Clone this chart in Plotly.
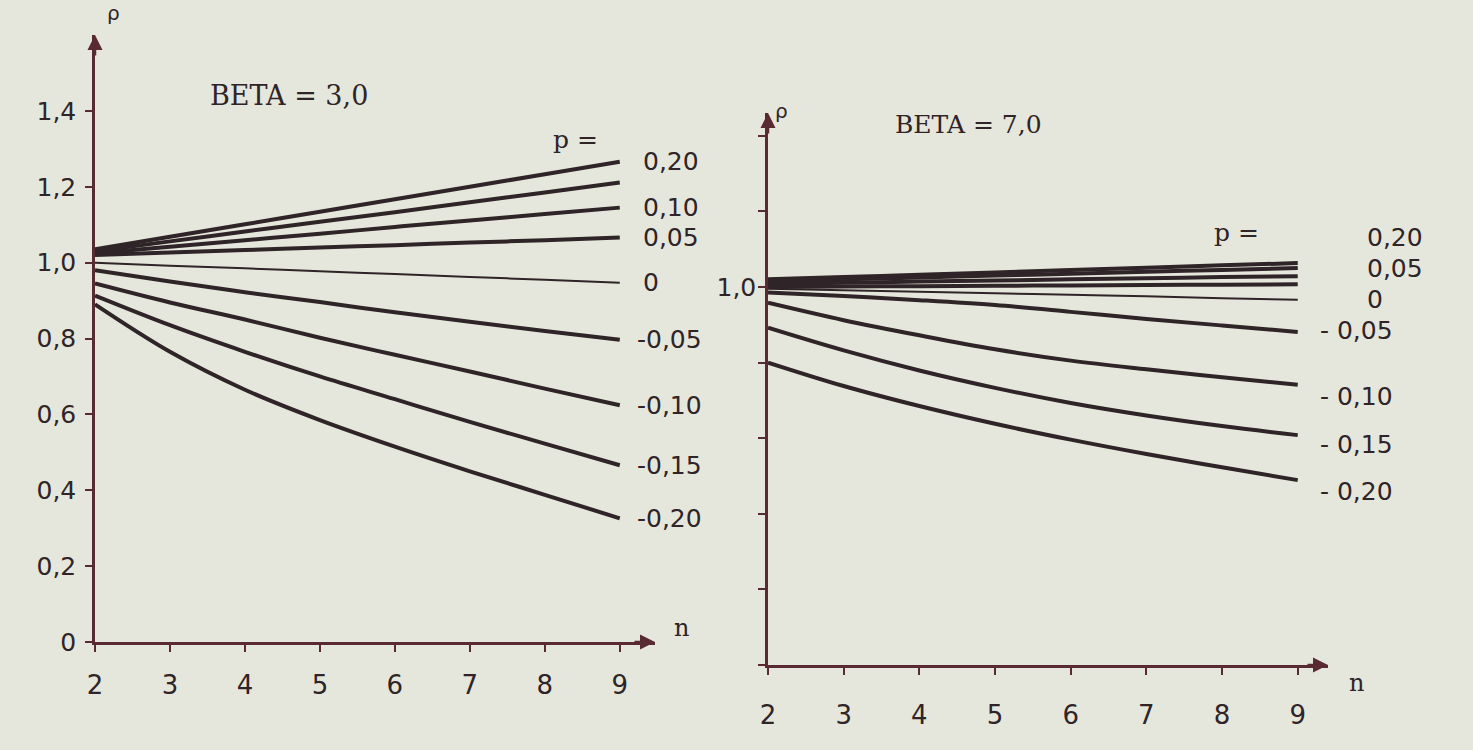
import plotly.graph_objects as go

# ---------------- data ----------------
n_vals = [2, 3, 4, 5, 6, 7, 8, 9]

p_labels = ["0,20", "0,15", "0,10", "0,05", "0", "-0,05", "-0,10", "-0,15", "-0,20"]

# BETA = 3,0  (left panel)
beta3_p020 = [1.035, 1.068, 1.101, 1.134, 1.167, 1.200, 1.233, 1.266]
beta3_p015 = [1.030, 1.056, 1.082, 1.108, 1.133, 1.159, 1.185, 1.211]
beta3_p010 = [1.025, 1.042, 1.059, 1.076, 1.094, 1.111, 1.128, 1.145]
beta3_p005 = [1.020, 1.027, 1.033, 1.040, 1.046, 1.053, 1.059, 1.066]
beta3_p000 = [1.000, 0.992, 0.985, 0.977, 0.970, 0.962, 0.955, 0.947]
beta3_m005 = [0.980, 0.950, 0.922, 0.896, 0.869, 0.844, 0.820, 0.797]
beta3_m010 = [0.945, 0.895, 0.850, 0.802, 0.757, 0.713, 0.668, 0.624]
beta3_m015 = [0.913, 0.835, 0.765, 0.700, 0.640, 0.580, 0.523, 0.466]
beta3_m020 = [0.890, 0.765, 0.665, 0.585, 0.515, 0.450, 0.388, 0.326]

# BETA = 7,0  (right panel)
beta7_p020 = [1.020, 1.026, 1.032, 1.038, 1.045, 1.051, 1.057, 1.063]
beta7_p015 = [1.015, 1.020, 1.025, 1.030, 1.035, 1.040, 1.045, 1.050]
beta7_p010 = [1.008, 1.011, 1.014, 1.017, 1.020, 1.023, 1.026, 1.028]
beta7_p005 = [1.000, 1.001, 1.002, 1.003, 1.004, 1.005, 1.006, 1.007]
beta7_p000 = [0.995, 0.991, 0.987, 0.983, 0.979, 0.975, 0.970, 0.966]
beta7_m005 = [0.985, 0.976, 0.965, 0.952, 0.934, 0.915, 0.898, 0.881]
beta7_m010 = [0.958, 0.912, 0.872, 0.835, 0.805, 0.782, 0.761, 0.741]
beta7_m015 = [0.892, 0.832, 0.779, 0.733, 0.693, 0.660, 0.632, 0.608]
beta7_m020 = [0.800, 0.738, 0.685, 0.638, 0.596, 0.558, 0.523, 0.489]

y_tick_vals = [0, 0.2, 0.4, 0.6, 0.8, 1.0, 1.2, 1.4]
y_tick_text = ["0", "0,2", "0,4", "0,6", "0,8", "1,0", "1,2", "1,4"]
y_tick_text_right = ["", "", "", "", "", "1,0", "", ""]
x_tick_vals = n_vals
x_tick_text = [str(v) for v in n_vals]

left_series = [beta3_p020, beta3_p015, beta3_p010, beta3_p005, beta3_p000,
               beta3_m005, beta3_m010, beta3_m015, beta3_m020]
right_series = [beta7_p020, beta7_p015, beta7_p010, beta7_p005, beta7_p000,
                beta7_m005, beta7_m010, beta7_m015, beta7_m020]

# labels shown at the line ends (left panel skips 0,15)
left_end_labels = ["0,20", "", "0,10", "0,05", "0", "-0,05", "-0,10", "-0,15", "-0,20"]
right_end_labels = ["0,20", "0,05", "0", "- 0,05", "- 0,10", "- 0,15", "- 0,20"]

# ---------------- styling / layout ----------------
BG = "#e6e7dc"
INK = "#2f2427"
AXIS = "#5a2a33"
LABEL_FONT = "DejaVu Sans"
SERIF = "DejaVu Serif"

# right label positions (paper x, data y) -- layout only
right_label_x = [0.9267, 0.9267, 0.9267, 0.8948, 0.8948, 0.8948, 0.8948]
right_label_y = [1.132, 1.050, 0.966, 0.884, 0.709, 0.582, 0.458]

fig = go.Figure()

for i, ys in enumerate(left_series):
    w = 2 if p_labels[i] == "0" else 4
    fig.add_trace(go.Scatter(x=n_vals, y=ys, mode="lines", xaxis="x", yaxis="y",
                             line=dict(color=INK, width=w, shape="spline"),
                             name="p = " + p_labels[i], showlegend=False))

for i, ys in enumerate(right_series):
    w = 2 if p_labels[i] == "0" else 4
    fig.add_trace(go.Scatter(x=n_vals, y=ys, mode="lines", xaxis="x2", yaxis="y2",
                             line=dict(color=INK, width=w, shape="spline"),
                             name="p = " + p_labels[i], showlegend=False))

axis_common = dict(showline=True, linecolor=AXIS, linewidth=2.5, ticks="outside",
                   ticklen=7, tickwidth=2, tickcolor=AXIS, showgrid=False,
                   zeroline=False, fixedrange=True, automargin=False)

W, H = 1473, 750
fig.update_layout(
    template="none",
    width=W, height=H,
    margin=dict(l=0, r=0, t=0, b=0, pad=0),
    paper_bgcolor=BG, plot_bgcolor=BG,
    showlegend=False,
    xaxis=dict(domain=[95 / W, 655 / W], range=[2, 9.47], anchor="y",
               tickvals=x_tick_vals, ticktext=x_tick_text, ticklabelstandoff=11,
               tickfont=dict(family=LABEL_FONT, size=26, color=INK), **axis_common),
    yaxis=dict(domain=[(H - 642) / H, (H - 35) / H], range=[0, 1.6], anchor="x",
               tickvals=y_tick_vals, ticktext=y_tick_text, ticklabelstandoff=4,
               tickfont=dict(family=LABEL_FONT, size=25, color=INK), **axis_common),
    xaxis2=dict(domain=[768 / W, 1328 / W], range=[2, 9.4], anchor="y2",
                tickvals=x_tick_vals, ticktext=x_tick_text, ticklabelstandoff=18,
                tickfont=dict(family=LABEL_FONT, size=26, color=INK), **axis_common),
    yaxis2=dict(domain=[(H - 665) / H, (H - 113) / H], range=[0, 1.46], anchor="x2",
                tickvals=y_tick_vals, ticktext=y_tick_text_right, ticklabelstandoff=-3,
                tickfont=dict(family=LABEL_FONT, size=25, color=INK), **axis_common),
)

ann = []
# axis arrows
for xr, yr, xt, yt, axp, ayp in [("x", "y", 2, 1.6, 0, 22), ("x", "y", 9.47, 0, -22, 0),
                                  ("x2", "y2", 2, 1.46, 0, 22), ("x2", "y2", 9.4, 0, -22, 0)]:
    ann.append(dict(x=xt, y=yt, xref=xr, yref=yr, ax=axp, ay=ayp, text="",
                    showarrow=True, arrowhead=2, arrowsize=1.2, arrowwidth=2.5,
                    arrowcolor=AXIS))

# axis titles
ann.append(dict(x=2, y=1.6, xref="x", yref="y", text="ρ", showarrow=False,
                xshift=18, yshift=22, yanchor="middle",
                font=dict(family=LABEL_FONT, size=20, color=INK)))
ann.append(dict(x=9.47, y=0, xref="x", yref="y", text="n", showarrow=False,
                xshift=26, yshift=14, yanchor="middle",
                font=dict(family=SERIF, size=24, color=INK)))
ann.append(dict(x=2, y=1.46, xref="x2", yref="y2", text="ρ", showarrow=False,
                xshift=14, yshift=2, yanchor="middle",
                font=dict(family=LABEL_FONT, size=20, color=INK)))
ann.append(dict(x=9.4, y=0, xref="x2", yref="y2", text="n", showarrow=False,
                xshift=28, yshift=-18, yanchor="middle",
                font=dict(family=SERIF, size=24, color=INK)))

# panel titles and "p =" headers
for txt, px, py, fs in [("BETA = 3,0", 208, 95, 27), ("BETA = 7,0", 893, 125, 25),
                        ("p =", 551, 140, 25), ("p =", 1212, 233, 25)]:
    ann.append(dict(x=px / W, y=(H - py) / H, xref="paper", yref="paper", text=txt,
                    xanchor="left", yanchor="middle", showarrow=False,
                    font=dict(family=SERIF, size=fs, color=INK)))

# end labels, left panel (anchored at line end)
for lab, ys in zip(left_end_labels, left_series):
    if not lab:
        continue
    ann.append(dict(x=n_vals[-1], y=ys[-1], xref="x", yref="y", text=lab,
                    xanchor="left", yanchor="middle",
                    xshift=15 if lab.startswith("-") else 21,
                    showarrow=False, font=dict(family=LABEL_FONT, size=25, color=INK)))

# end labels, right panel
for lab, lx, ly in zip(right_end_labels, right_label_x, right_label_y):
    ann.append(dict(x=lx, y=ly, xref="paper", yref="y2", text=lab, xanchor="left",
                    yanchor="middle", showarrow=False,
                    font=dict(family=LABEL_FONT, size=25, color=INK)))

fig.update_layout(annotations=ann)

fig.write_html("out.html",
               config={"displayModeBar": False},
               post_script="document.body.style.margin='0px';"
                           "document.body.style.overflow='hidden';")
